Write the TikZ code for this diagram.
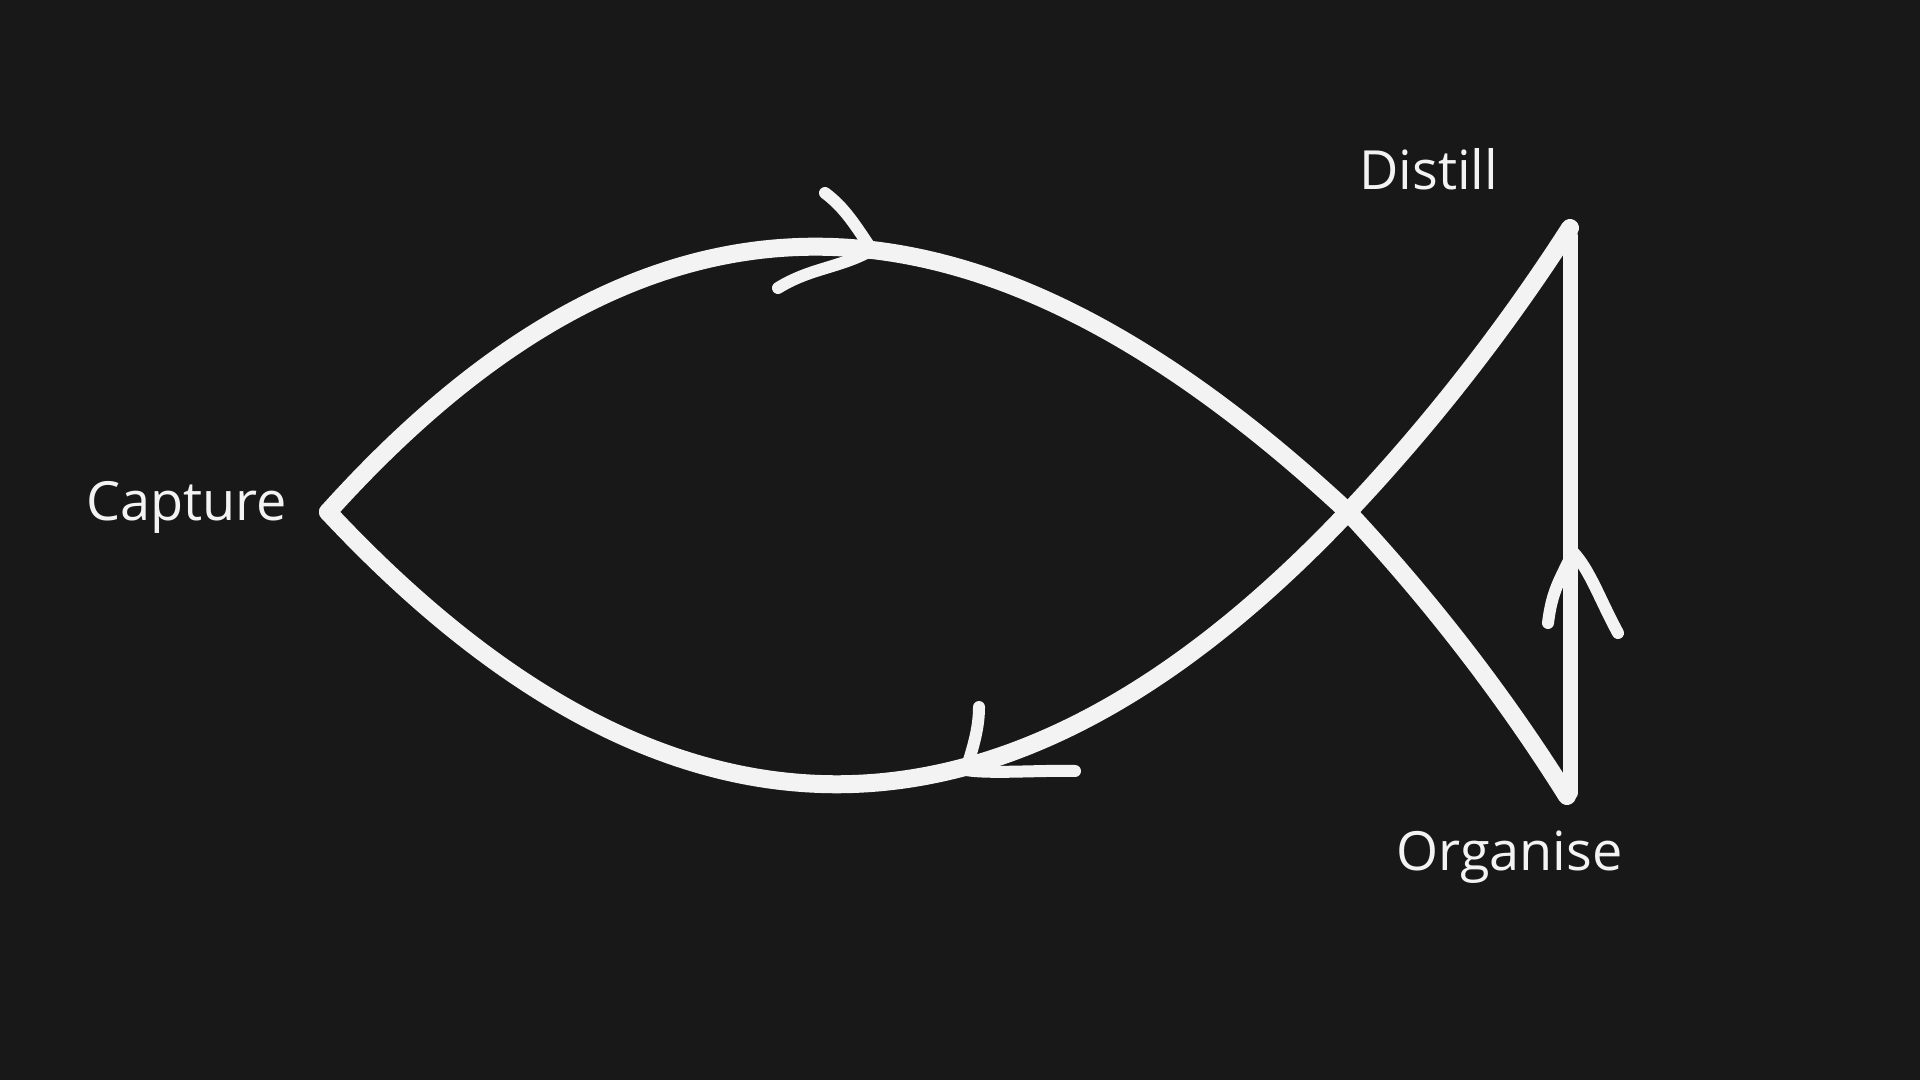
\documentclass[tikz,border=0pt]{standalone}
\usepackage{fontspec}
\setmainfont{Open Sans}
\definecolor{bg}{HTML}{181818}
\definecolor{ink}{HTML}{F3F3F3}
\begin{document}
\begin{tikzpicture}[x=0.5pt,y=-0.5pt,
  stroke/.style={draw=ink, line width=9pt, line cap=round, line join=round},
  barb/.style={draw=ink, line width=6pt, line cap=round, line join=round},
  lbl/.style={text=ink, font=\fontsize{27}{27}\selectfont, inner sep=0pt}]
\fill[bg] (0,0) rectangle (1920,1080);
\useasboundingbox (0,0) rectangle (1920,1080);
% key points
\coordinate (nose) at (328,512);
\coordinate (cross) at (1348,512);
\coordinate (dist) at (1570,228);
\coordinate (org) at (1567,796);
\coordinate (vtop) at (1570,236);
\coordinate (vbot) at (1570,793);
% labels
\node[lbl, anchor=base west] (capture) at (86,520) {Capture};
\node[lbl, anchor=base west] (distill) at (1359,190) {Distill};
\node[lbl, anchor=base west] (organise) at (1396,870) {Organise};
% fish body
\draw[stroke] (nose) .. controls (663,140) and (988,177) .. (cross)
  .. controls (1430,600) and (1503,694) .. (org);
\draw[stroke] (nose) .. controls (663,870) and (1000,880) .. (cross)
  .. controls (1431,424) and (1505,329) .. (dist);
\draw[stroke, line width=7.5pt] (vtop) -- (vbot);
% arrowheads
\coordinate (t1) at (872,250);
\coordinate (a1) at (825,193);
\coordinate (b1) at (778,288);
\draw[barb] (a1) .. controls (845,208) and (855,225) .. (t1) .. controls (840,268) and (810,268) .. (b1);
\coordinate (t2) at (966,770);
\coordinate (a2) at (979,707);
\coordinate (b2) at (1075,771);
\draw[barb] (a2) .. controls (979,730) and (972,750) .. (t2) .. controls (990,774) and (1040,770) .. (b2);
\coordinate (t3) at (1573,552);
\coordinate (a3) at (1548,623);
\coordinate (b3) at (1618,633);
\draw[barb] (a3) .. controls (1552,590) and (1560,580) .. (t3) .. controls (1590,570) and (1600,600) .. (b3);
\end{tikzpicture}
\end{document}
